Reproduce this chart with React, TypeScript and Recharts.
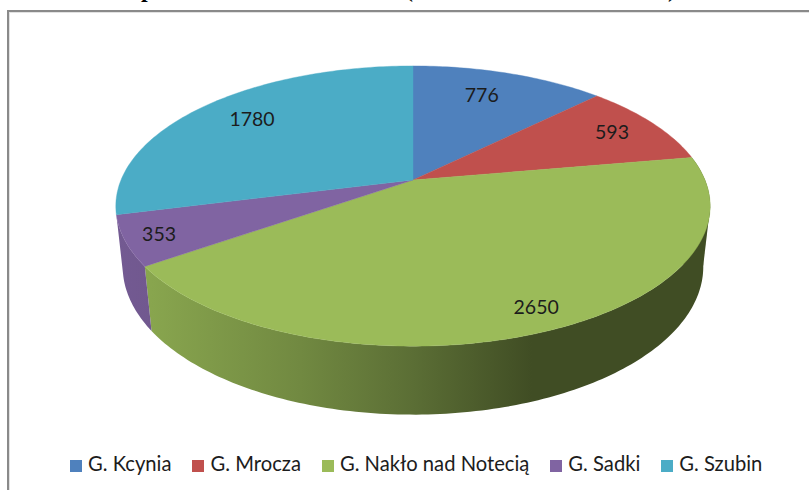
import { PieChart, Pie, Cell, Legend } from 'recharts';

const NAMES = ['G. Kcynia', 'G. Mrocza', 'G. Nakło nad Notecią', 'G. Sadki', 'G. Szubin'];
const VALUES = [776, 593, 2650, 353, 1780];
const COLORS = ['#4F81BD', '#C0504D', '#9BBB59', '#8064A2', '#4BACC6'];

// only the bottoms of these title glyphs are left in the cropped picture
const TITLE_BITS = [
  { text: 'p', x: 141 },
  { text: '(', x: 405 },
  { text: ')', x: 668 },
];

// how far out each value sits on its slice, as a share of the radius, plus a small nudge
const LABEL_RADIUS = [0.76, 0.82, 0.88, 0.89, 0.78];
const LABEL_NUDGE = [
  [-7, -2],
  [0, -1],
  [8, -3],
  [0, 0],
  [4, -2],
];

const chartData = NAMES.map((name, i) => ({ name, value: VALUES[i] }));

const WIDTH = 809;
const HEIGHT = 490;
const CX = 413;
const CY = 180;
const RADIUS = 292;
const DEPTH = 69;
// camera for the tilted disc
const TILT_COS = 0.4632;
const TILT_SIN = 0.8862;
const CAMERA = 1392;

const FONT = 'Lato, sans-serif';
const TEXT_COLOR = '#1c1c1c';

// wall light falls off from left to right
const WALL_STOPS = [
  [0, 0.9],
  [0.06, 0.88],
  [0.31, 0.73],
  [0.5, 0.59],
  [0.7, 0.41],
  [1, 0.41],
];

function project(cx: number, cy: number, angle: number, r: number, h: number) {
  const rad = (angle * Math.PI) / 180;
  const x = r * Math.cos(rad);
  const y = -r * Math.sin(rad);
  const w = 1 - (y * TILT_SIN - h * TILT_COS) / CAMERA;
  return { x: cx + x / w, y: cy + (y * TILT_COS + h * TILT_SIN) / w };
}

function arcPoints(cx: number, cy: number, r: number, from: number, to: number, h: number) {
  const steps = Math.max(2, Math.ceil(Math.abs(to - from)));
  const pts = [];
  for (let i = 0; i <= steps; i++) {
    pts.push(project(cx, cy, from + ((to - from) * i) / steps, r, h));
  }
  return pts;
}

const toPath = (pts: { x: number; y: number }[]) => pts.map(p => `${p.x.toFixed(2)},${p.y.toFixed(2)}`).join('L');

function rightmost(pts: { x: number; y: number }[]) {
  return pts.reduce((best, p) => (p.x > best.x ? p : best), pts[0]);
}

function shade(hex: string, f: number) {
  const n = parseInt(hex.slice(1), 16);
  const c = [(n >> 16) & 255, (n >> 8) & 255, n & 255].map(v => Math.round(v * f));
  return `rgb(${c[0]},${c[1]},${c[2]})`;
}

function TopFace(props: any) {
  const { cx, cy, outerRadius, startAngle, endAngle, fill } = props;
  const pts = arcPoints(cx, cy, outerRadius, startAngle, endAngle, 0);
  return <path d={`M${cx},${cy}L${toPath(pts)}Z`} fill={fill} stroke={fill} strokeWidth={0.4} />;
}

function SideWall(props: any) {
  const { cx, cy, outerRadius, startAngle, endAngle, midAngle, fill, index } = props;
  // slices on the far half of the disc show no wall
  if (Math.sin((midAngle * Math.PI) / 180) > 0) return <g />;
  const top = arcPoints(cx, cy, outerRadius, startAngle, endAngle, 0);
  const bottom = arcPoints(cx, cy, outerRadius, startAngle, endAngle, DEPTH);
  const id = `wall-${index}`;
  const paint = `url(#${id})`;
  const a = rightmost(top);
  const b = rightmost(bottom);
  // the two rims cross on the right, so the band needs its outer edge filled in
  const turnsRight = a !== top[0] && a !== top[top.length - 1];
  return (
    <g>
      <defs>
        <linearGradient id={id} gradientUnits="userSpaceOnUse" x1={cx - 297} x2={cx + 297} y1={0} y2={0}>
          {WALL_STOPS.map(([pos, f]) => (
            <stop key={pos} offset={pos} stopColor={shade(fill, f)} />
          ))}
        </linearGradient>
      </defs>
      <path d={`M${toPath(top)}L${toPath([...bottom].reverse())}Z`} fill={paint} />
      {turnsRight && <path d={`M${toPath([a, b, { x: cx, y: cy + DEPTH }])}Z`} fill={paint} />}
    </g>
  );
}

function renderValue(props: any) {
  const { cx, cy, midAngle, outerRadius, index, value } = props;
  const p = project(cx, cy, midAngle, outerRadius * LABEL_RADIUS[index], 0);
  return (
    <text
      x={p.x + LABEL_NUDGE[index][0]}
      y={p.y + LABEL_NUDGE[index][1]}
      textAnchor="middle"
      dominantBaseline="central"
      fontFamily={FONT}
      fontSize={19.5}
      fill={TEXT_COLOR}
    >
      {value}
    </text>
  );
}

export default function App() {
  return (
    <div style={{ position: 'absolute', left: 0, top: 0, width: WIDTH, height: HEIGHT, overflow: 'hidden', background: '#fff' }}>
      {TITLE_BITS.map(bit => (
        <span
          key={bit.x}
          style={{ position: 'absolute', left: bit.x, top: -23, font: 'bold 24px "Liberation Serif", serif', color: '#000', lineHeight: '24px' }}
        >
          {bit.text}
        </span>
      ))}
      <div
        style={{
          position: 'absolute',
          left: 7,
          top: 10,
          width: WIDTH,
          height: HEIGHT,
          borderLeft: '2px solid #8a8a8a',
          borderTop: '2px solid #8a8a8a',
          boxShadow: 'inset 1px 1px 0 #e2e2e2',
        }}
      />
      <div style={{ position: 'absolute', left: 0, top: 0 }}>
        <PieChart width={WIDTH} height={HEIGHT} margin={{ top: 0, right: 0, bottom: 0, left: 0 }}>
          <Pie
            data={chartData}
            dataKey="value"
            nameKey="name"
            cx={CX}
            cy={CY}
            outerRadius={RADIUS}
            startAngle={90}
            endAngle={-270}
            legendType="none"
            shape={SideWall}
            isAnimationActive={false}
          >
            {chartData.map((_, index) => (
              <Cell key={`wall-${index}`} fill={COLORS[index]} />
            ))}
          </Pie>
          <Pie
            data={chartData}
            dataKey="value"
            nameKey="name"
            cx={CX}
            cy={CY}
            outerRadius={RADIUS}
            startAngle={90}
            endAngle={-270}
            shape={TopFace}
            label={renderValue}
            labelLine={false}
            isAnimationActive={false}
          >
            {chartData.map((_, index) => (
              <Cell key={`cell-${index}`} fill={COLORS[index]} />
            ))}
          </Pie>
          <Legend
            align="left"
            verticalAlign="bottom"
            iconType="square"
            iconSize={12}
            wrapperStyle={{ left: 70, top: 451, width: 735, padding: 0, fontFamily: FONT, fontSize: 20.2, whiteSpace: 'nowrap' }}
            formatter={(name: string) => (
              <span style={{ color: TEXT_COLOR, marginLeft: 2, marginRight: 11 }}>{name}</span>
            )}
          />
        </PieChart>
      </div>
    </div>
  );
}
